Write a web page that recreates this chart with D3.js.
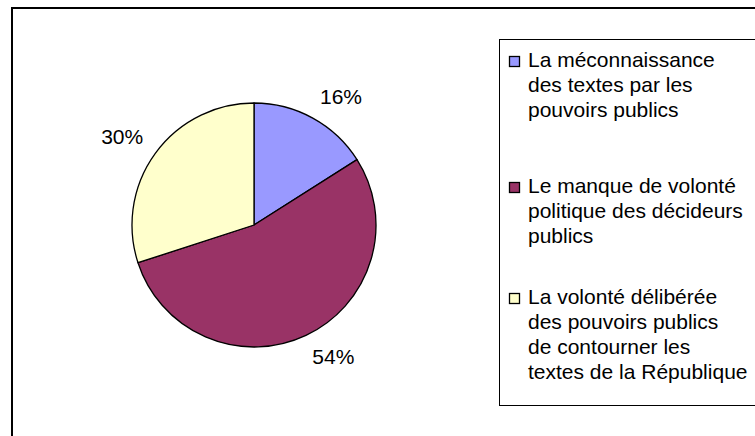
<!DOCTYPE html>
<meta charset="utf-8">
<style>
  body { margin: 0; background: #fff; }
  text { font-family: "Liberation Sans", Arial, sans-serif; fill: #000; }
</style>
<body>
<div id="chart"></div>
<script src="https://d3js.org/d3.v7.min.js"></script>
<script>

// chart data
let categories = [
  ["La méconnaissance", "des textes par les", "pouvoirs publics"],
  ["Le manque de volonté", "politique des décideurs", "publics"],
  ["La volonté délibérée", "des pouvoirs publics", "de contourner les", "textes de la République"]
];
let values = [16, 54, 30];
let labels = ["16%", "54%", "30%"];
let colors = ["#9999FF", "#993366", "#FFFFCC"];

let width = 755, height = 436;
let cx = 254, cy = 225, radius = 122;
let fontSize = 21;

let svg = d3.select("#chart").append("svg")
            .attr("width", width)
            .attr("height", height);

// outer frame (runs off the right and bottom edges)
svg.append("rect")
   .attr("x", 12).attr("y", 8)
   .attr("width", 800).attr("height", 500)
   .style("fill", "none")
   .style("stroke", "#000")
   .style("stroke-width", 2);

let pie = d3.pie().sort(null).value(d => d);
let arcs = pie(values);
let arc = d3.arc().innerRadius(0).outerRadius(radius);
// labels hang off a point just outside the rim, box grows away from the pie
let labelArc = d3.arc().innerRadius(radius + 15).outerRadius(radius + 15);

let g = svg.append("g").attr("transform", "translate(" + cx + "," + cy + ")");

g.selectAll("path")
 .data(arcs)
 .enter().append("path")
  .attr("d", arc)
  .style("fill", (d, i) => colors[i])
  .style("stroke", "#000")
  .style("stroke-width", 1.3)
  .style("stroke-linejoin", "round");

g.selectAll("text.pct")
 .data(arcs)
 .enter().append("text")
  .attr("class", "pct")
  .style("font-size", fontSize + "px")
  .attr("text-anchor", "middle")
  .text((d, i) => labels[i])
  .each(function(d) {
      let p = labelArc.centroid(d);
      let w = this.getComputedTextLength();
      let h = 16;
      let x = p[0] + Math.sign(p[0]) * w / 2;
      let y = p[1] + Math.sign(p[1]) * h / 2;
      d3.select(this).attr("x", x).attr("y", y + 7.5);
  });

// legend
let legendX = 499.5, legendY = 39.5, legendBottom = 405.5;
let firstBaseline = [67, 193, 304];
let lineStep = 25;

svg.append("rect")
   .attr("x", legendX).attr("y", legendY)
   .attr("width", 400).attr("height", legendBottom - legendY)
   .style("fill", "#fff")
   .style("stroke", "#000")
   .style("stroke-width", 1);

let items = svg.selectAll("g.item")
               .data(categories)
               .enter().append("g")
               .attr("class", "item");

items.append("rect")
     .attr("x", 509.5)
     .attr("y", (d, i) => firstBaseline[i] - 10.5)
     .attr("width", 10).attr("height", 10)
     .style("fill", (d, i) => colors[i])
     .style("stroke", "#000")
     .style("stroke-width", 1.3);

items.each(function(lines, i) {
    d3.select(this).selectAll("text")
      .data(lines)
      .enter().append("text")
       .attr("x", 528)
       .attr("y", (t, j) => firstBaseline[i] + j * lineStep)
       .style("font-size", fontSize + "px")
       .text(t => t);
});

</script>
</body>
